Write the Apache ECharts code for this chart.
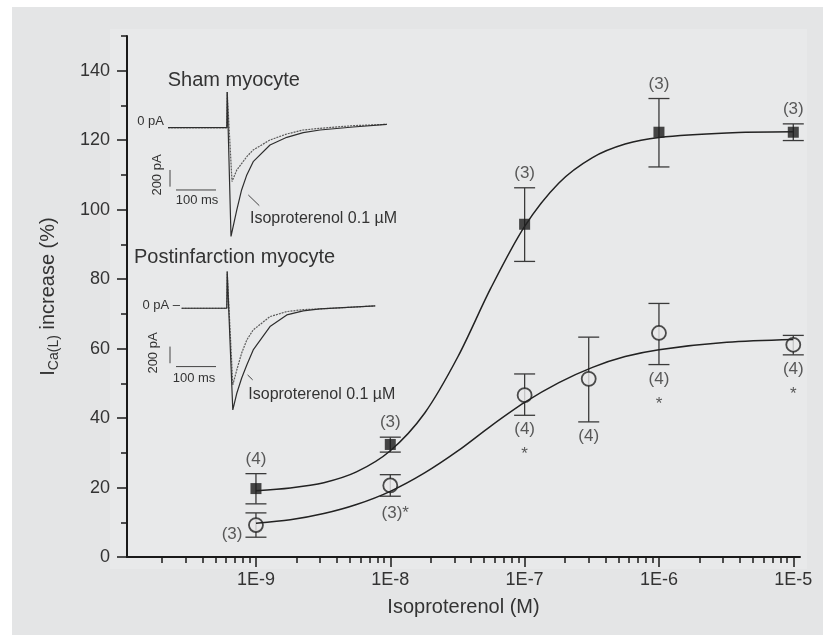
<!DOCTYPE html>
<html>
<head>
<meta charset="utf-8">
<script src="https://cdn.jsdelivr.net/npm/echarts@6/dist/echarts.min.js"></script>
<style>
  html, body { margin: 0; padding: 0; background: #ffffff; }
  #wrap { position: relative; width: 823px; height: 635px; overflow: hidden; }
  #outer { position: absolute; left: 12px; top: 7px; right: 0; bottom: 0; background: #e4e5e6; }
  #inner { position: absolute; left: 110px; top: 29px; width: 697px; height: 540px; background: #e8e9ea; }
  #container { position: absolute; left: 0; top: 0; width: 823px; height: 635px; }
</style>
</head>
<body>
<div id="wrap">
  <div id="outer"></div>
  <div id="inner"></div>
  <div id="container"></div>
</div>
<script>
var dom = document.getElementById('container');
var myChart = echarts.init(dom, null, { renderer: 'canvas' });
var FONT = '"Liberation Sans", Arial, Helvetica, sans-serif';
var TXT = '#333333';

// dose-response points, % increase of I_Ca(L)
var shamConc = [1e-9, 1e-8, 1e-7, 1e-6, 1e-5];
var shamMean = [19.7, 32.4, 95.8, 122.3, 122.3];
var shamLow = [15.3, 30.2, 85.1, 112.3, 119.9];
var shamHigh = [24.0, 34.5, 106.3, 132.0, 124.7];
var shamN = ['(4)', '(3)', '(3)', '(3)', '(3)'];

var postConc = [1e-9, 1e-8, 1e-7, 3e-7, 1e-6, 1e-5];
var postMean = [9.2, 20.6, 46.6, 51.3, 64.5, 61.1];
var postLow = [5.7, 17.5, 40.8, 38.9, 55.4, 58.2];
var postHigh = [12.7, 23.7, 52.7, 63.3, 73.0, 63.8];
var postN = ['(3)', '(3)', '(4)', '(4)', '(4)', '(4)'];
var postSig = [false, true, true, false, true, true];

// fitted curves
var fitConc = [1e-9, 1.8e-9, 3.2e-9, 5.6e-9, 1e-8, 1.8e-8, 3.2e-8, 5.6e-8, 1e-7,
  1.8e-7, 3.2e-7, 5.6e-7, 1e-6, 3.2e-6, 1e-5];
var shamFit = [19.1, 19.9, 21.4, 24.5, 30.6, 41.4, 57.8, 77.4, 95.2, 107.7, 115.0, 118.9, 120.8, 122.1, 122.4];
var postFit = [9.7, 10.7, 12.5, 15.1, 18.9, 24.2, 30.6, 37.7, 44.5, 50.2, 54.6, 57.7, 59.7, 61.8, 62.6];

var xTickLabels = [-9, -8, -7, -6, -5];
var yTickLabels = [0, 20, 40, 60, 80, 100, 120, 140];
var yMinorTicks = [10, 30, 50, 70, 90, 110, 130, 150];

// inset current traces: [time ms, current pA]
var shamControl = [[0, 0], [147, 0], [148, 428], [160, -647], [172, -508], [197, -348], [213, -267],
  [255, -148], [297, -76], [338, -28], [380, -8], [463, 24], [547, 40]];
var shamIso = [[0, 0], [147, 0], [148, 428], [157.5, -1306], [172, -987], [184, -748], [197, -567],
  [213, -408], [255, -208], [297, -116], [338, -60], [380, -28], [463, 8], [547, 40]];
var postControl = [[34, 0], [147, 0], [148, 440], [162, -920], [172, -740], [184, -540], [197, -380],
  [213, -260], [255, -100], [297, -40], [338, -16], [380, -8], [518, 28]];
var postIso = [[34, 0], [147, 0], [148, 440], [162, -1220], [172, -1020], [184, -840], [197, -680],
  [213, -500], [255, -220], [297, -80], [338, -32], [380, -8], [518, 28]];

function lg(v) { return Math.log10(v); }

var xMinor = [];
for (var d = -10; d <= -6; d++) {
  for (var k = 2; k <= 9; k++) xMinor.push(d + lg(k));
}

function pairs(xs, ys) {
  return xs.map(function (c, i) { return [lg(c), ys[i]]; });
}

function errorSeries(xs, lows, highs) {
  return {
    type: 'custom',
    xAxisIndex: 0, yAxisIndex: 0,
    z: 2,
    data: xs.map(function (c, i) { return [lg(c), lows[i], highs[i]]; }),
    renderItem: function (params, api) {
      var lo = api.coord([api.value(0), api.value(1)]);
      var hi = api.coord([api.value(0), api.value(2)]);
      var w = 10.5;
      var st = { stroke: '#3a3a3a', lineWidth: 1.3 };
      return {
        type: 'group',
        children: [
          { type: 'line', shape: { x1: lo[0], y1: lo[1], x2: hi[0], y2: hi[1] }, style: st },
          { type: 'line', shape: { x1: lo[0] - w, y1: lo[1], x2: lo[0] + w, y2: lo[1] }, style: st },
          { type: 'line', shape: { x1: hi[0] - w, y1: hi[1], x2: hi[0] + w, y2: hi[1] }, style: st }
        ]
      };
    }
  };
}

var shamLabels = shamConc.map(function (c, i) {
  return { value: [lg(c), shamHigh[i]], name: shamN[i] };
});
var postLabels = postConc.map(function (c, i) {
  return { value: [lg(c), postLow[i]], name: postN[i] + (postSig[i] ? '\n{a|*}' : '') };
});
// 1E-9: count written left of the circle; 1E-8: star beside the count
postLabels[0].label = { position: 'left', align: 'right', distance: 13, offset: [0, -3] };
postLabels[1].name = postN[1] + '*';
postLabels[1].label = { offset: [5, 3] };

function trace(data, grid, dashed) {
  return {
    type: 'line',
    xAxisIndex: grid + 1, yAxisIndex: grid + 1,
    data: data,
    symbol: 'none',
    silent: true,
    lineStyle: { color: dashed ? '#5a5a5a' : '#2e2e2e', width: 1.2, type: dashed ? [2, 1] : 'solid' },
    z: 3
  };
}
function segment(pts, grid) {
  return {
    type: 'line',
    xAxisIndex: grid + 1, yAxisIndex: grid + 1,
    data: pts, symbol: 'none', silent: true,
    lineStyle: { color: '#444', width: 1 }, z: 3
  };
}

function txt(x, y, s, size, align, rot) {
  return {
    type: 'text', x: x, y: y, rotation: rot || 0, z: 20,
    style: { text: s, fontSize: size, fontFamily: FONT, fill: TXT,
      textAlign: align || 'left', textVerticalAlign: 'middle' }
  };
}

var insetX = { min: 0, max: 550, show: false };
var insetY = { min: -1400, max: 500, show: false };
var labelStyle = { fontSize: 17, lineHeight: 20, fontFamily: FONT, color: TXT };

option = {
  animation: false,
  grid: [
    { left: 127, right: 23, top: 36, bottom: 78 },
    { left: 168, top: 86, width: 220, height: 158.3 },
    { left: 168, top: 266.6, width: 220, height: 158.3 }
  ],
  xAxis: [
    {
      type: 'value', gridIndex: 0, position: 'bottom', min: -9.96, max: -4.95,
      name: 'Isoproterenol (M)', nameLocation: 'middle', nameGap: 40,
      nameTextStyle: { fontSize: 20, fontFamily: FONT, color: TXT },
      axisLine: { onZero: false, lineStyle: { color: '#1a1a1a', width: 2 } },
      axisTick: { customValues: xTickLabels, length: 10, lineStyle: { color: '#1a1a1a', width: 1.5 } },
      axisLabel: { customValues: xTickLabels, margin: 14, fontSize: 18, fontFamily: FONT, color: TXT,
        formatter: function (v) { return '1E' + v; } },
      splitLine: { show: false }
    },
    {
      type: 'value', gridIndex: 0, position: 'bottom', offset: 0, min: -9.96, max: -4.95,
      axisLine: { show: false, onZero: false },
      axisTick: { show: true, customValues: xMinor, length: 6, lineStyle: { color: '#1a1a1a', width: 1.5 } },
      axisLabel: { show: false },
      splitLine: { show: false }
    },
    Object.assign({ type: 'value', gridIndex: 1 }, insetX),
    Object.assign({ type: 'value', gridIndex: 2 }, insetX)
  ],
  yAxis: [
    {
      type: 'value', gridIndex: 0, position: 'left', min: 0, max: 150,
      name: '{i|I}{s|Ca(L)}{t| increase (%)}', nameLocation: 'middle', nameGap: 66, nameRotate: 90,
      nameTextStyle: {
        fontFamily: FONT, color: TXT,
        rich: {
          i: { fontSize: 20, fontFamily: FONT, color: TXT, lineHeight: 26 },
          s: { fontSize: 14, fontFamily: FONT, color: TXT, lineHeight: 26, verticalAlign: 'bottom' },
          t: { fontSize: 20, fontFamily: FONT, color: TXT, lineHeight: 26 }
        }
      },
      axisLine: { show: true, onZero: false, lineStyle: { color: '#1a1a1a', width: 2 } },
      axisTick: { show: true, customValues: yTickLabels, length: 10, lineStyle: { color: '#1a1a1a', width: 1.5 } },
      axisLabel: { customValues: yTickLabels, margin: 17, fontSize: 18, fontFamily: FONT, color: TXT },
      splitLine: { show: false }
    },
    {
      type: 'value', gridIndex: 0, position: 'left', offset: 0, min: 0, max: 150,
      axisLine: { show: false, onZero: false },
      axisTick: { show: true, customValues: yMinorTicks, length: 6, lineStyle: { color: '#1a1a1a', width: 1.5 } },
      axisLabel: { show: false },
      splitLine: { show: false }
    },
    Object.assign({ type: 'value', gridIndex: 1 }, insetY),
    Object.assign({ type: 'value', gridIndex: 2 }, insetY)
  ],
  series: [
    errorSeries(shamConc, shamLow, shamHigh),
    errorSeries(postConc, postLow, postHigh),
    {
      name: 'Sham', type: 'scatter', data: pairs(shamConc, shamMean),
      symbol: 'rect', symbolSize: 11, itemStyle: { color: '#1a1a1a' }, z: 4
    },
    {
      name: 'Postinfarction', type: 'scatter', data: pairs(postConc, postMean),
      symbol: 'circle', symbolSize: 14,
      itemStyle: { color: '#e8e9ea', borderColor: '#222', borderWidth: 1.8 }, z: 4
    },
    {
      type: 'line', data: pairs(fitConc, shamFit), smooth: 0.3,
      symbol: 'none', lineStyle: { color: '#222', width: 1.5 }, z: 5
    },
    {
      type: 'line', data: pairs(fitConc, postFit), smooth: 0.3,
      symbol: 'none', lineStyle: { color: '#222', width: 1.5 }, z: 5
    },
    {
      type: 'scatter', data: shamLabels, symbol: 'circle', symbolSize: 1, silent: true, z: 6,
      itemStyle: { color: 'rgba(0,0,0,0)' },
      label: Object.assign({ show: true, position: 'top', distance: 4, formatter: '{b}' }, labelStyle)
    },
    {
      type: 'scatter', data: postLabels, symbol: 'circle', symbolSize: 1, silent: true, z: 6,
      itemStyle: { color: 'rgba(0,0,0,0)' },
      label: Object.assign({ show: true, position: 'bottom', distance: 4, formatter: '{b}', align: 'center',
        rich: { a: { fontSize: 17, lineHeight: 30, fontFamily: FONT, color: TXT } } }, labelStyle)
    },
    // insets
    trace(shamControl, 1, true),
    trace(shamIso, 1, false),
    trace(postControl, 2, true),
    trace(postIso, 2, false),
    segment([[20, -748], [120, -748]], 1),
    segment([[5, -508], [5, -708]], 1),
    segment([[200.75, -808], [228.25, -936]], 1),
    segment([[20, -700], [120, -700]], 2),
    segment([[5, -460], [5, -660]], 2),
    segment([[199, -800], [211.75, -860]], 2)
  ],
  graphic: [
    txt(167.7, 80, 'Sham myocyte', 20),
    txt(164, 121.7, '0 pA', 13, 'right'),
    txt(157.7, 175, '200 pA', 13, 'center', Math.PI / 2),
    txt(197, 200, '100 ms', 13, 'center'),
    txt(250, 218.3, 'Isoproterenol 0.1 µM', 16),
    txt(134, 257.3, 'Postinfarction myocyte', 20),
    txt(180, 305, '0 pA –', 13, 'right'),
    txt(153, 353, '200 pA', 13, 'center', Math.PI / 2),
    txt(194, 378, '100 ms', 13, 'center'),
    txt(248.3, 395, 'Isoproterenol 0.1 µM', 16)
  ]
};

myChart.setOption(option);
window.addEventListener('resize', myChart.resize);
</script>
</body>
</html>
